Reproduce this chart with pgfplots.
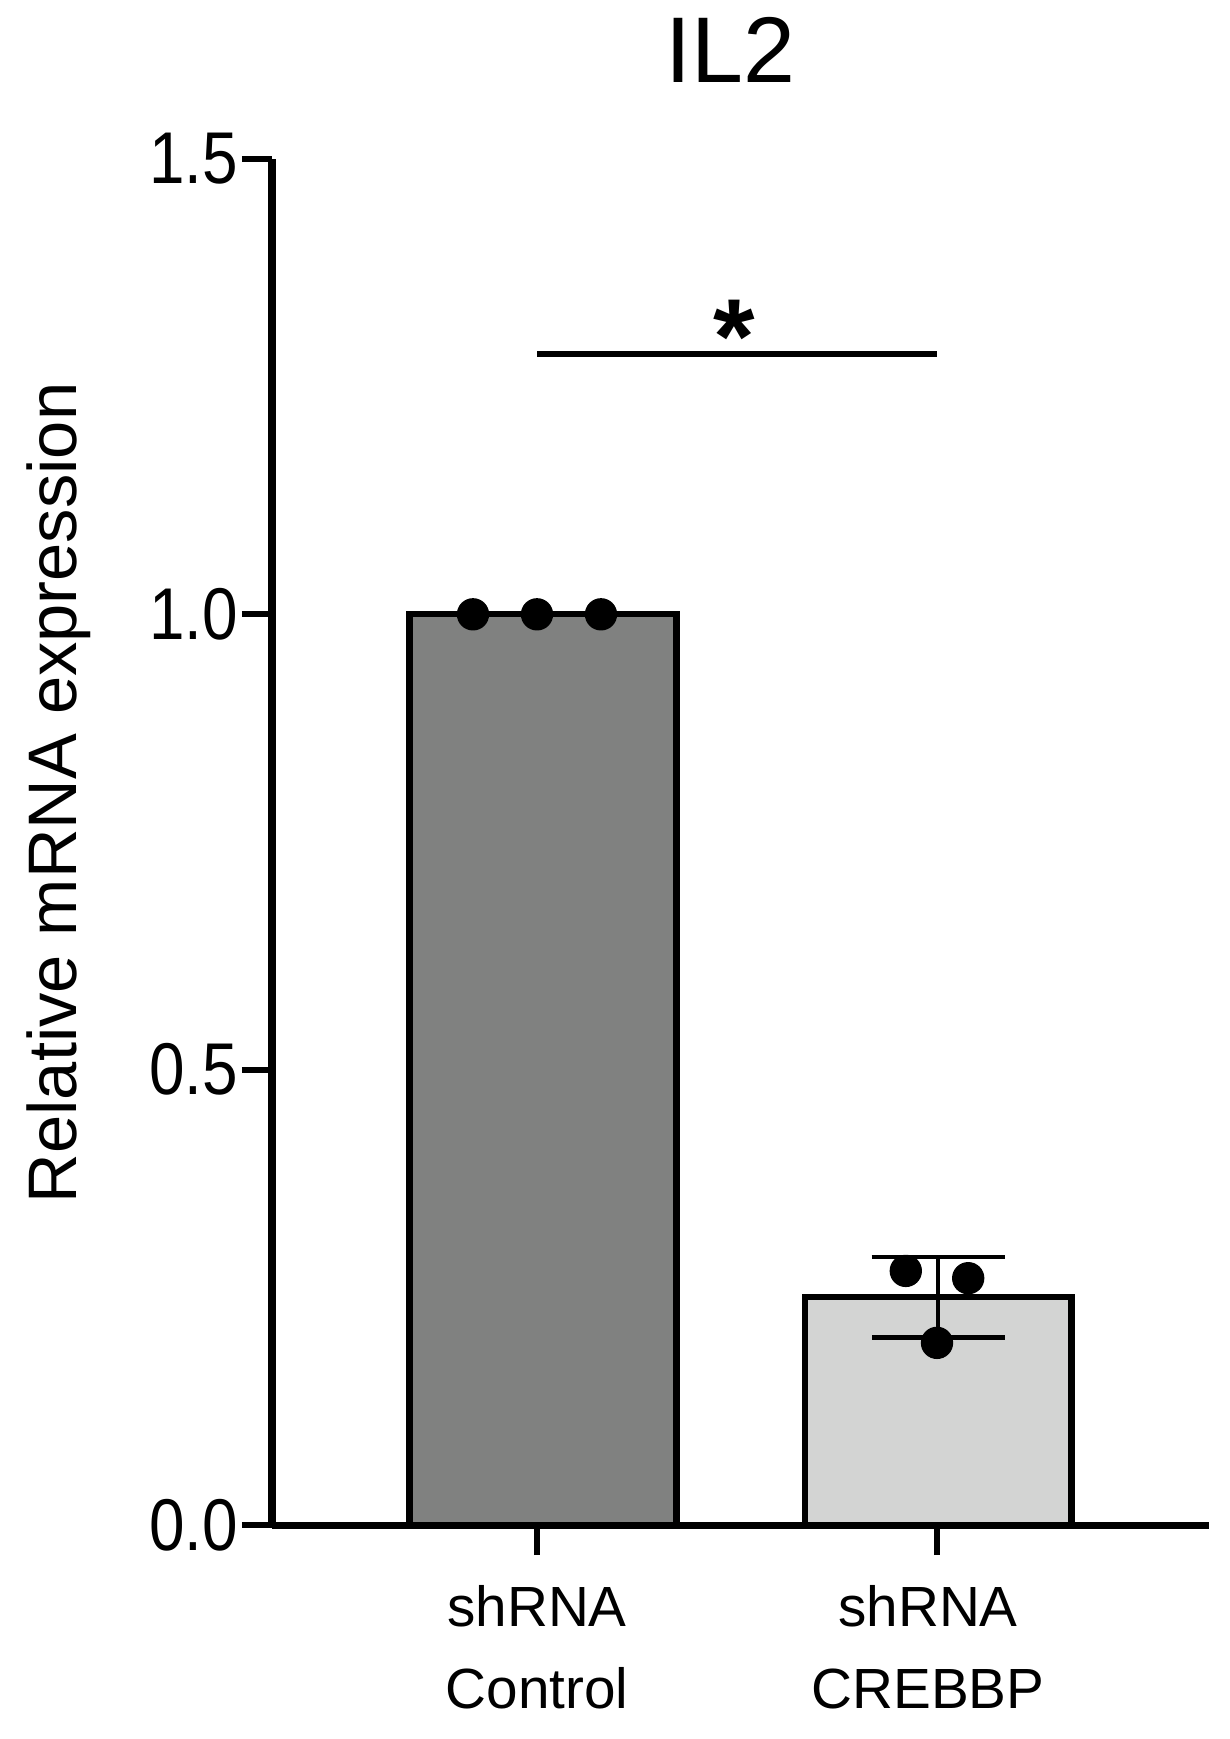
\documentclass[border=0pt]{standalone}
\usepackage{pgfplots}
\pgfplotsset{compat=1.18}
\usepackage{fontspec}
\setmainfont{Liberation Sans}
\newfontfamily\condensed[FakeStretch=0.87]{Liberation Sans}
\definecolor{darkbar}{RGB}{128,129,128}
\definecolor{lightbar}{RGB}{211,212,211}
\begin{document}
\begin{tikzpicture}
\useasboundingbox (0,0) rectangle (369pt,521.7pt);
\begin{axis}[
  at={(81.6pt,64.2pt)}, anchor=south west,
  width=281.1pt, height=409.8pt, scale only axis,
  xmin=0.3375, xmax=2.68, ymin=0, ymax=1.5,
  axis x line*=bottom, axis y line*=left,
  axis line style={line width=2.1pt, black},
  clip=false,
  ytick={0,0.5,1,1.5},
  yticklabel style={/pgf/number format/fixed, /pgf/number format/fixed zerofill, /pgf/number format/precision=1, /pgf/number format/assume math mode=true, font=\condensed\fontsize{22}{25}\selectfont, inner sep=1pt},
  xtick={1,2},
  xticklabels={shRNA\\Control, shRNA\hspace*{5.4pt}\\CREBBP\hspace*{5.4pt}},
  xticklabel style={align=center, font=\fontsize{17}{24.6}\selectfont, yshift=-5.5pt},
  tick style={line width=1.8pt, black},
  major tick length=9pt, tick align=outside,
  ylabel={Relative mRNA expression},
  ylabel style={at={(axis description cs:-0.228,0.536)}, anchor=center, font=\fontsize{20.6}{24}\selectfont},
  title={IL2},
  title style={at={(axis description cs:0.4895,1.0655)}, anchor=center, font=\fontsize{28}{32}\selectfont},
]
\addplot[ybar, bar width=0.667, bar shift=0pt, fill=darkbar, draw=black, line width=1.9pt] coordinates {(1.015,1)};
\addplot[ybar, bar width=0.667, bar shift=0pt, fill=lightbar, draw=black, line width=1.9pt,
  error bars/.cd, y dir=both, y explicit,
  error bar style={line width=1.3pt, black},
  error mark options={rotate=90, mark size=20pt, line width=1.3pt, black}]
  coordinates {(2.003,0.25) +- (0,0.044)};
\addplot[only marks, mark=*, mark size=4.65pt, black] coordinates {(0.84,1) (1,1) (1.16,1)};
\addplot[only marks, mark=*, mark size=4.65pt, black] coordinates {(1.922,0.279) (2.078,0.271) (2,0.200)};
\addplot[line width=1.6pt, black] coordinates {(1,1.286) (2,1.286)};
\node[anchor=base, yshift=-17pt, font=\fontsize{32}{32}\selectfont\bfseries] at (axis cs:1.4925,1.327) {*};
\end{axis}
\end{tikzpicture}
\end{document}
